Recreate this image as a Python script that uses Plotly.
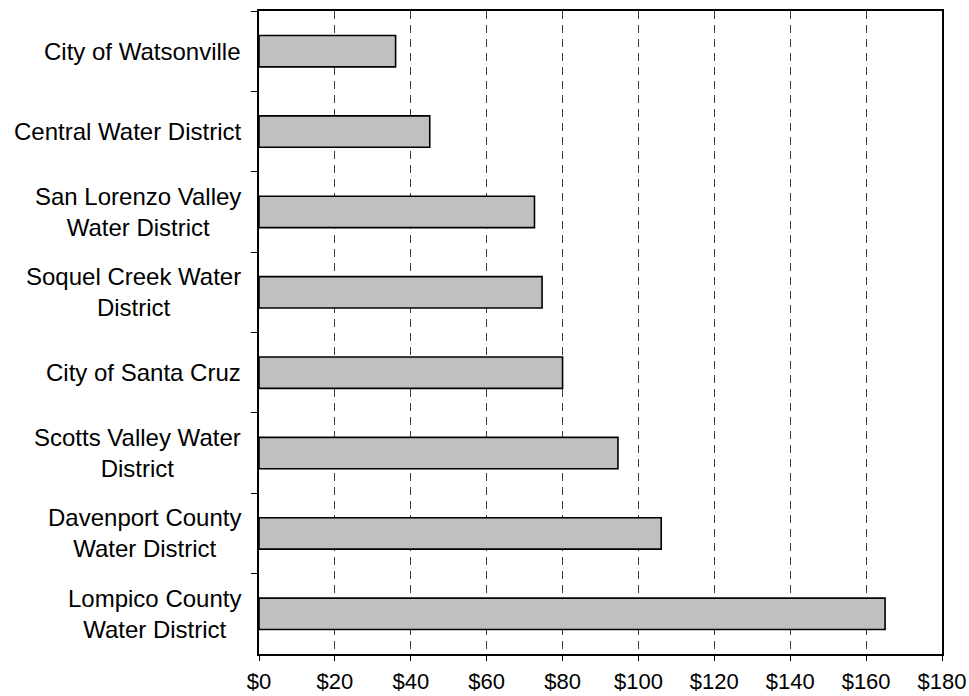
import plotly.graph_objects as go

categories = [
    "City of Watsonville",
    "Central Water District",
    "San Lorenzo Valley<br>Water District",
    "Soquel Creek Water<br>District",
    "City of Santa Cruz",
    "Scotts Valley Water<br>District",
    "Davenport County<br>Water District",
    "Lompico County<br>Water District",
]
values = [36, 45, 72.6, 74.6, 80, 94.6, 106, 165]
x_tickvals = [0, 20, 40, 60, 80, 100, 120, 140, 160, 180]
x_ticktext = ["$0", "$20", "$40", "$60", "$80", "$100", "$120", "$140", "$160", "$180"]

FONT = "Liberation Sans, Arial, sans-serif"

fig = go.Figure()
fig.add_trace(go.Bar(
    x=values,
    y=categories,
    orientation="h",
    width=0.39,
    marker=dict(color="#C0C0C0", line=dict(color="black", width=1.6)),
    hoverinfo="x+y",
))

for cat in categories:
    fig.add_annotation(
        x=0, xref="paper", y=cat, yref="y",
        text=cat, showarrow=False,
        xanchor="right", yanchor="middle", align="center",
        xshift=-16,
        font=dict(family=FONT, size=24, color="black"),
    )

fig.update_layout(
    width=969, height=696,
    margin=dict(l=259, r=27, t=11, b=42, autoexpand=False),
    plot_bgcolor="white", paper_bgcolor="white",
    showlegend=False,
    bargap=0.61,
)
fig.update_xaxes(
    range=[0, 180],
    tickvals=x_tickvals, ticktext=x_ticktext,
    ticks="outside", ticklen=5, tickcolor="black", tickwidth=1,
    showgrid=True, gridcolor="#404040", gridwidth=1, griddash="8px,6px",
    showline=True, linecolor="black", linewidth=2, mirror=True,
    zeroline=False, automargin=False,
    ticklabeloverflow="allow",
    tickfont=dict(family=FONT, size=22, color="black"),
    ticklabelstandoff=2,
)
fig.update_yaxes(
    categoryorder="array", categoryarray=categories,
    autorange="reversed",
    showticklabels=False,
    ticks="outside", ticklen=6, tickcolor="black", tickwidth=1,
    tickson="boundaries",
    showgrid=False,
    showline=True, linecolor="black", linewidth=2, mirror=True,
    zeroline=False, automargin=False,
)

# remove the default 8px page margin so the figure fills the window exactly
fig.write_html(
    "out.html",
    config={"displayModeBar": False},
    post_script="document.body.style.margin='0';",
)
